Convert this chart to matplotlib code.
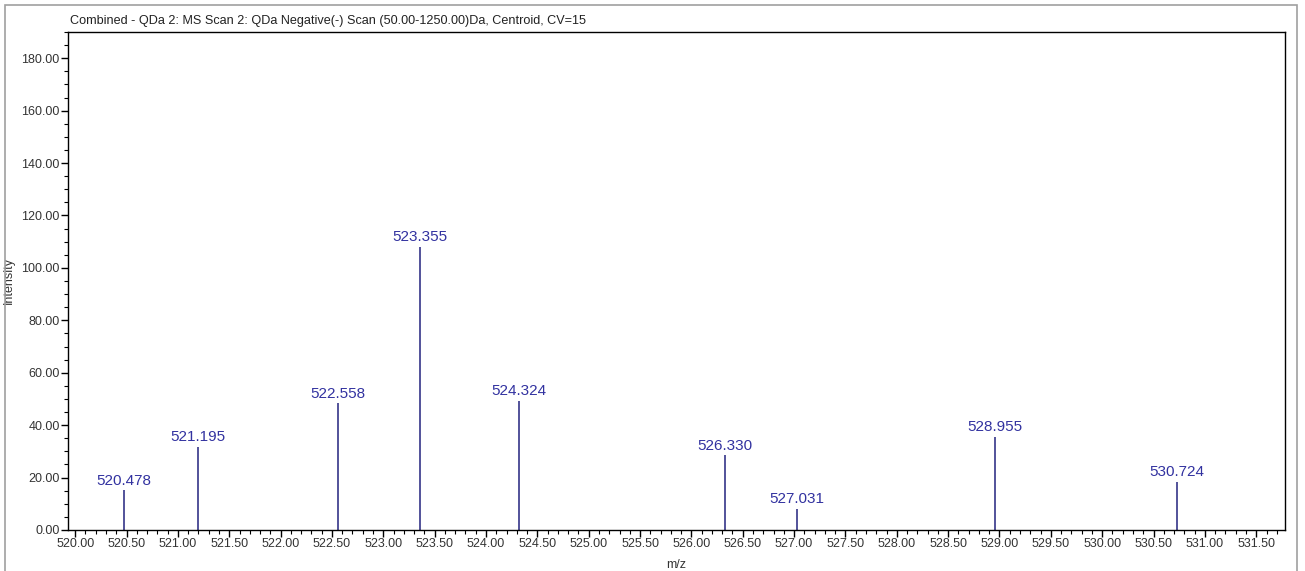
import matplotlib.pyplot as plt
from matplotlib.patches import Rectangle
from matplotlib.ticker import MultipleLocator, FormatStrFormatter

# Centroid peaks (m/z, intensity)
mz = [520.478, 521.195, 522.558, 523.355, 524.324, 526.330, 527.031, 528.955, 530.724]
intensity = [15.2, 31.7, 48.4, 108.0, 49.4, 28.5, 8.2, 35.5, 18.4]
peak_labels = ['520.478', '521.195', '522.558', '523.355', '524.324',
               '526.330', '527.031', '528.955', '530.724']

title = 'Combined - QDa 2: MS Scan 2: QDa Negative(-) Scan (50.00-1250.00)Da, Centroid, CV=15'

plt.rcParams['font.family'] = ['Liberation Sans', 'DejaVu Sans']

fig = plt.figure(figsize=(13.05, 5.71), dpi=100)
ax = fig.add_axes([68 / 1305, 1 - 530 / 571, (1285 - 68) / 1305, (530 - 32) / 571])

# grey window frame around the whole spectrum
fig.patches.append(Rectangle((5 / 1305, -0.01), 1292 / 1305, 1 - 5 / 571 + 0.01,
                             transform=fig.transFigure, fill=False,
                             edgecolor='#a0a0a0', linewidth=1.2))

ax.vlines(mz, 0, intensity, color='#23237f', linewidth=1.1)
for x, y, lab in zip(mz, intensity, peak_labels):
    ax.text(x, y + 1.0, lab, ha='center', va='bottom', fontsize=11, color='#3232a0')

ax.set_xlim(519.93, 531.78)
ax.set_ylim(0, 190)

ax.xaxis.set_major_locator(MultipleLocator(0.5))
ax.xaxis.set_minor_locator(MultipleLocator(0.1))
ax.yaxis.set_major_locator(MultipleLocator(20))
ax.yaxis.set_minor_locator(MultipleLocator(5))
ax.xaxis.set_major_formatter(FormatStrFormatter('%.2f'))
ax.yaxis.set_major_formatter(FormatStrFormatter('%.2f'))

ax.tick_params(which='major', direction='out', length=5, width=1, labelsize=9,
               colors='black', labelcolor='#333333', pad=1)
ax.tick_params(which='minor', direction='out', length=3, width=0.8)

for s in ax.spines.values():
    s.set_linewidth(1.0)
    s.set_color('black')

ax.set_xlabel('m/z', fontsize=9, color='#333333', labelpad=6)
ax.set_ylabel('Intensity', fontsize=9, color='#333333')
ax.yaxis.set_label_coords(-0.044, 0.5)

fig.text(70 / 1305, 1 - 21 / 571, title, ha='left', va='center', fontsize=9.1, color='#222222')

fig.savefig('out.png', dpi=100, facecolor='white')
